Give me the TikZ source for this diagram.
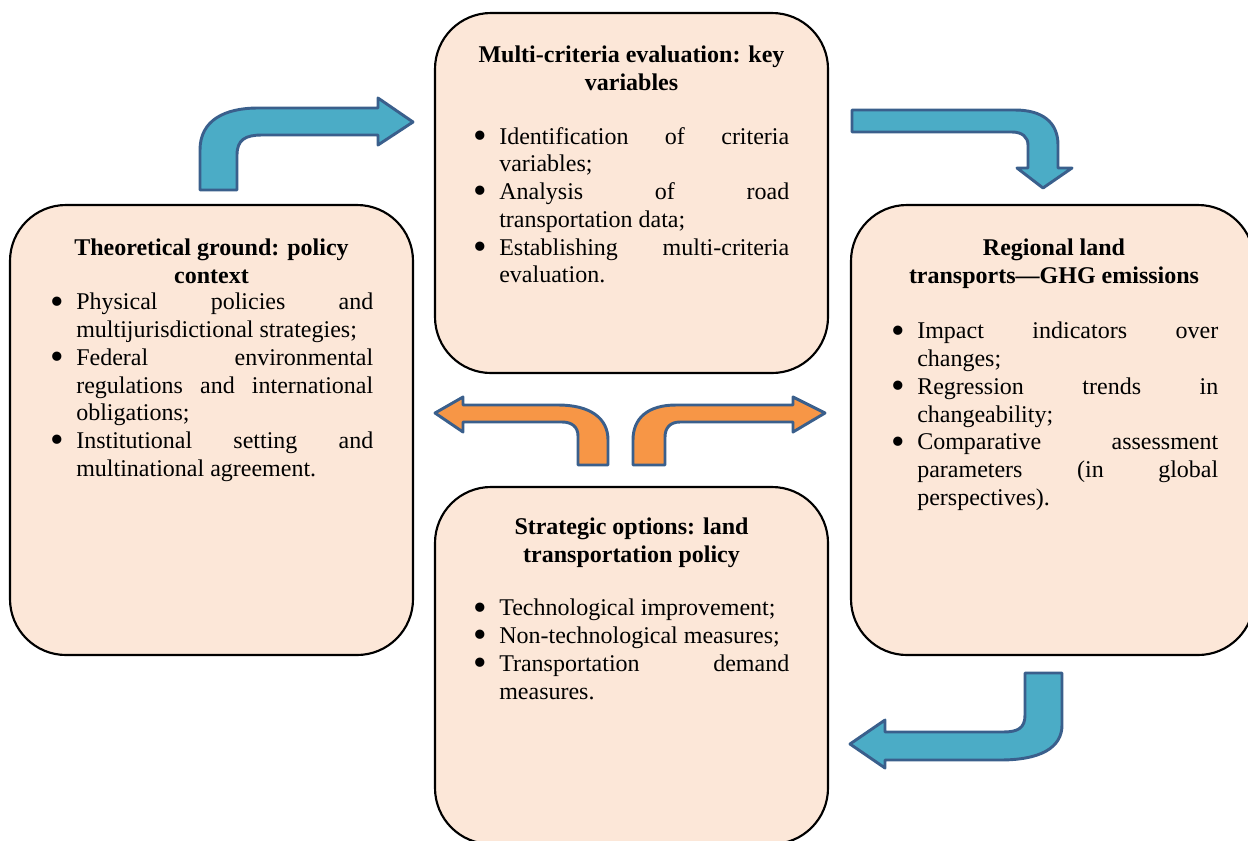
\documentclass[tikz,border=0pt]{standalone}
\usepackage{fontspec}
\setmainfont{Liberation Serif}
\definecolor{boxfill}{HTML}{FCE7D8}
\definecolor{arrowline}{HTML}{3A5F8C}
\definecolor{arrowblue}{HTML}{4BACC6}
\definecolor{arroworange}{HTML}{F79646}
\hbadness=10000
\newcommand{\bitem}[1]{\noindent\hangindent=19.5pt\hangafter=1%
  \makebox[19.5pt][l]{\smash{\raisebox{-3.2pt}{\fontsize{29}{29}\selectfont\textbullet}}}#1\par}

\begin{document}
\begin{tikzpicture}[x=0.75pt,y=-0.75pt,
  box/.style={draw=black,line width=1.6pt,fill=boxfill,rounded corners=42pt,inner sep=0pt},
  heading/.style={font=\fontsize{18}{20.8}\selectfont\bfseries,align=center,anchor=north,inner sep=0pt},
  items/.style={font=\fontsize{18}{20.8}\selectfont,text width=#1,align=justify,anchor=north west,inner sep=0pt},
  bentblue/.style={draw=arrowline,fill=arrowblue,line width=2.2pt,line join=round},
  bentorange/.style={bentblue,fill=arroworange}]
  \useasboundingbox (0,0) rectangle (1248,840);
  \clip (0,0) rectangle (1248,840);

  % the four boxes
  \node[box,minimum width=294.75pt,minimum height=270pt] (evalbox) at (631.5,193) {};
  \node[box,minimum width=302.25pt,minimum height=337.5pt] (theorybox) at (211.5,430) {};
  \node[box,minimum width=302.25pt,minimum height=337.5pt] (regionbox) at (1052.5,430) {};
  \node[box,minimum width=294.75pt,minimum height=267.75pt] (optionbox) at (631.5,665.5) {};

  % headings
  \node[heading] (evaltitle) at (631.5,46) {Multi-criteria evaluation: key\\variables};
  \node[heading] (theorytitle) at (211.5,239) {Theoretical ground: policy\\context};
  \node[heading] (regiontitle) at (1054,239) {Regional land\\transports---GHG emissions};
  \node[heading] (optiontitle) at (631.5,518) {Strategic options: land\\transportation policy};

  % bullet lists
  \node[items=237pt] (evallist) at (473,127) {%
    \bitem{Identification of criteria \linebreak variables;}
    \bitem{Analysis of road \linebreak transportation data;}
    \bitem{Establishing multi-criteria \linebreak evaluation.}};
  \node[items=242.25pt] (theorylist) at (50,293) {%
    \bitem{Physical policies and \linebreak multijurisdictional strategies;}
    \bitem{Federal environmental \linebreak regulations and international \linebreak obligations;}
    \bitem{Institutional setting and \linebreak multinational agreement.}};
  \node[items=245.25pt] (regionlist) at (891,322) {%
    \bitem{Impact indicators over \linebreak changes;}
    \bitem{Regression trends in \linebreak changeability;}
    \bitem{Comparative assessment \linebreak parameters (in global \linebreak perspectives).}};
  \node[items=237pt] (optionlist) at (473,599) {%
    \bitem{Technological improvement;}
    \bitem{Non-technological measures;}
    \bitem{Transportation demand \linebreak measures.}};

  % bent arrows
  \draw[bentblue] (200,190) -- (200,150) .. controls (200,120) and (225,108) .. (258,108)
    -- (378,108) -- (378,98) -- (413,122) -- (378,145) -- (378,135) -- (262,135)
    .. controls (245,135) and (237,140) .. (237,155) -- (237,190) -- cycle;
  \draw[bentblue] (852,110) -- (1015,110) .. controls (1042,110) and (1058,122) .. (1058,145)
    -- (1058,168) -- (1072,168) -- (1043,188) -- (1017,168) -- (1028,168) -- (1028,145)
    .. controls (1028,137) and (1022,132) .. (1012,132) -- (852,132) -- cycle;
  \draw[bentblue] (1025,673) -- (1062,673) -- (1062,725) .. controls (1062,748) and (1040,760) .. (1000,760)
    -- (885,760) -- (885,768) -- (850,744) -- (885,720) -- (885,732) -- (1003,732)
    .. controls (1018,732) and (1025,728) .. (1025,715) -- cycle;
  \draw[bentorange] (435,413) -- (463,397) -- (463,405) -- (558,405) .. controls (590,405) and (608,418) .. (608,440)
    -- (608,465) -- (578,465) -- (578,436) .. controls (578,427) and (572,422) .. (562,422)
    -- (463,422) -- (463,432) -- cycle;
  \draw[bentorange] (825,413) -- (793,397) -- (793,405) -- (676,405) .. controls (648,405) and (633,418) .. (633,440)
    -- (633,465) -- (665,465) -- (665,437) .. controls (665,428) and (670,422) .. (680,422)
    -- (793,422) -- (793,432) -- cycle;
\end{tikzpicture}
\end{document}
